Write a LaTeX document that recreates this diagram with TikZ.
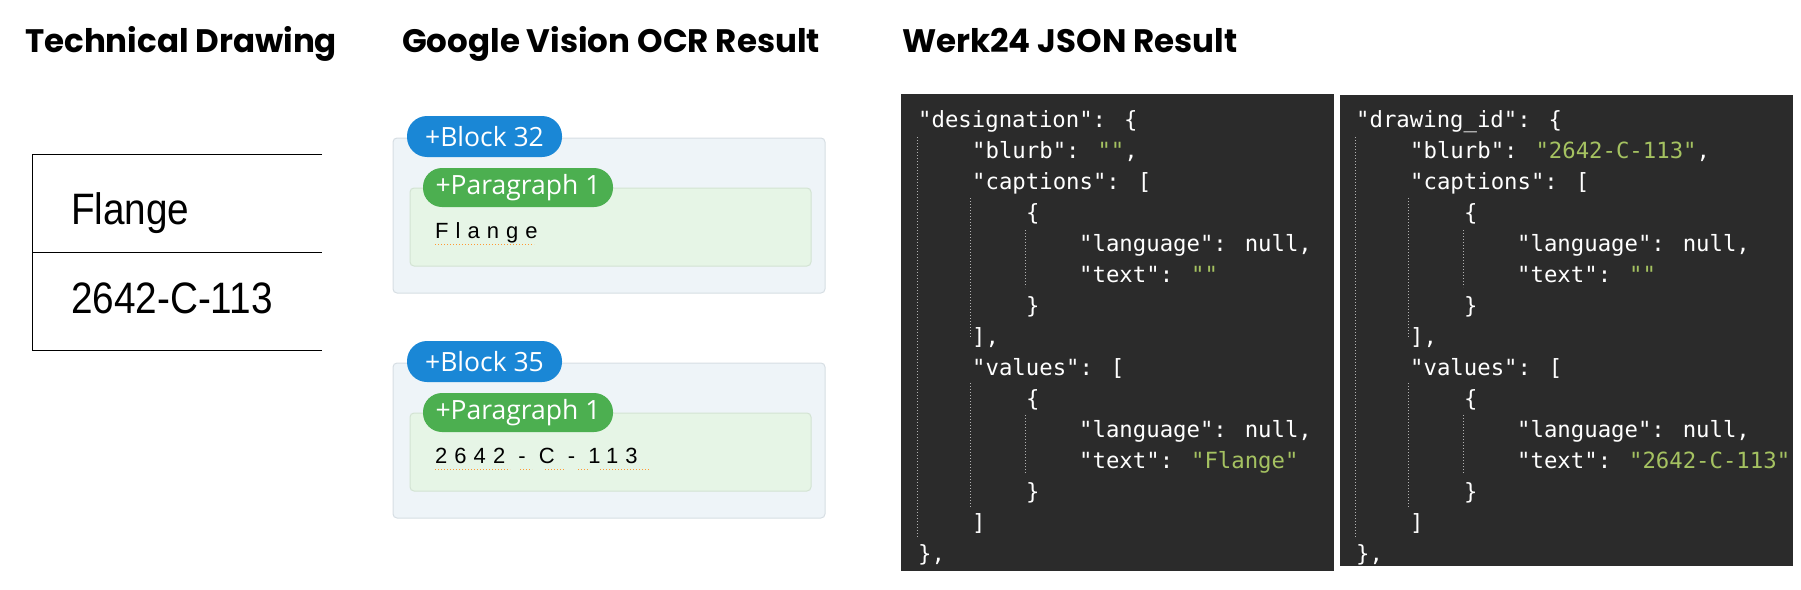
\documentclass[tikz,border=0pt]{standalone}
\usepackage{fontspec}
\setmainfont{Poppins}
\newfontfamily\arialf{Liberation Sans}
\newfontfamily\robf{Open Sans}
\newfontfamily\ocrf{Liberation Sans}[LetterSpace=32]
\newfontfamily\monof{DejaVu Sans Mono}
\definecolor{bgdark}{HTML}{2B2B2B}
\definecolor{jgreen}{HTML}{A5C261}
\definecolor{blockbg}{HTML}{EEF4F8}
\definecolor{blockln}{HTML}{D6DEE3}
\definecolor{parbg}{HTML}{E6F5E6}
\definecolor{parln}{HTML}{D3E3D3}
\definecolor{bpill}{HTML}{1A87D6}
\definecolor{gpill}{HTML}{4CAF50}
\begin{document}
\begin{tikzpicture}[x=1pt,y=-1pt,
  head/.style={anchor=base west,font=\fontsize{32.5}{34}\selectfont\bfseries,inner sep=0pt},
  block/.style={draw=blockln,fill=blockbg,rounded corners=4pt,line width=1pt},
  para/.style={draw=parln,fill=parbg,rounded corners=4pt,line width=1pt},
  pill/.style={rounded corners=13pt,text=white,font=\robf\fontsize{26.5}{28}\selectfont,inner sep=0pt,anchor=center},
  ocr/.style={anchor=base west,font=\ocrf\fontsize{22}{24}\selectfont,inner sep=0pt},
  code/.style={anchor=base west,font=\monof\fontsize{22.3}{24}\selectfont,text=white,inner sep=0pt},
  guide/.style={draw=gray!60,dotted,line width=1pt},
  dul/.style={draw=orange!80,dotted,line width=1pt}]
\useasboundingbox (0,0) rectangle (1801,589);
% headings
\node[head] (h1) at (25,52) {Technical Drawing};
\node[head] (h2) at (402,52) {Google Vision OCR Result};
\node[head] (h3) at (902,52) {Werk24 JSON Result};
% technical drawing
\draw[line width=1pt] (322,154) -- (32,154) -- (32,350) -- (322,350);
\draw[line width=1pt] (32,252) -- (322,252);
\node[anchor=west,font=\arialf\fontsize{44}{46}\selectfont,xscale=0.88] (td1) at (68,213) {Flange};
\node[anchor=west,font=\arialf\fontsize{44}{46}\selectfont,xscale=0.88] (td2) at (68,298) {2642-C-113};
% OCR blocks
\foreach \dy/\bn/\txt/\nm in {0/32/Flange/a,225/35/2642 - C - 113/b}{
  \begin{scope}[yshift=-\dy pt]
  \path[block] (393,138) rectangle (825,293);
  \path[para] (410,188) rectangle (811,266);
  \path[fill=bpill,rounded corners=20pt] (407,116) rectangle (562,157);
  \node[pill] (bp\nm) at (484.5,136.5) {+Block \bn};
  \path[fill=gpill,rounded corners=19pt] (423,168) rectangle (613,207);
  \node[pill] (gp\nm) at (518,187.5) {+Paragraph 1};
  \node[ocr] (ot\nm) at (435,238) {\txt};
  \end{scope}
}
\draw[dul] (435,244) -- (534,244);
\draw[dul] (435,469) -- (510,469) (520,469)--(532,469) (545,469)--(566,469) (578,469)--(590,469) (600,469)--(650,469);
% JSON panels
\fill[bgdark] (901,94) rectangle (1334,571);
\fill[bgdark] (1340,95) rectangle (1793,566);
\foreach \ox/\key/\blurb/\val in {918/designation/""/Flange, 1356/drawing\_id/"2642-C-113"/2642-C-113}{
  \begin{scope}[xshift=\ox pt]
  \draw[guide] (-1,137) -- (-1,537);
  \draw[guide] (52,198) -- (52,338) (52,383) -- (52,507);
  \draw[guide] (107,230) -- (107,287) (107,415) -- (107,473);
  \node[code] at (0,127) {"\key": \{};
  \node[code] at (54,158) {"blurb": \textcolor{jgreen}{\blurb},};
  \node[code] at (54,189) {"captions": [};
  \node[code] at (108,220) {\{};
  \node[code] at (161,251) {"language": null,};
  \node[code] at (161,282) {"text": \textcolor{jgreen}{""}};
  \node[code] at (108,313) {\}};
  \node[code] at (54,344) {],};
  \node[code] at (54,375) {"values": [};
  \node[code] at (108,406) {\{};
  \node[code] at (161,437) {"language": null,};
  \node[code] at (161,468) {"text": \textcolor{jgreen}{"\val"}};
  \node[code] at (108,499) {\}};
  \node[code] at (54,530) {]};
  \node[code] at (0,561) {\},};
  \end{scope}
}
\end{tikzpicture}
\end{document}
